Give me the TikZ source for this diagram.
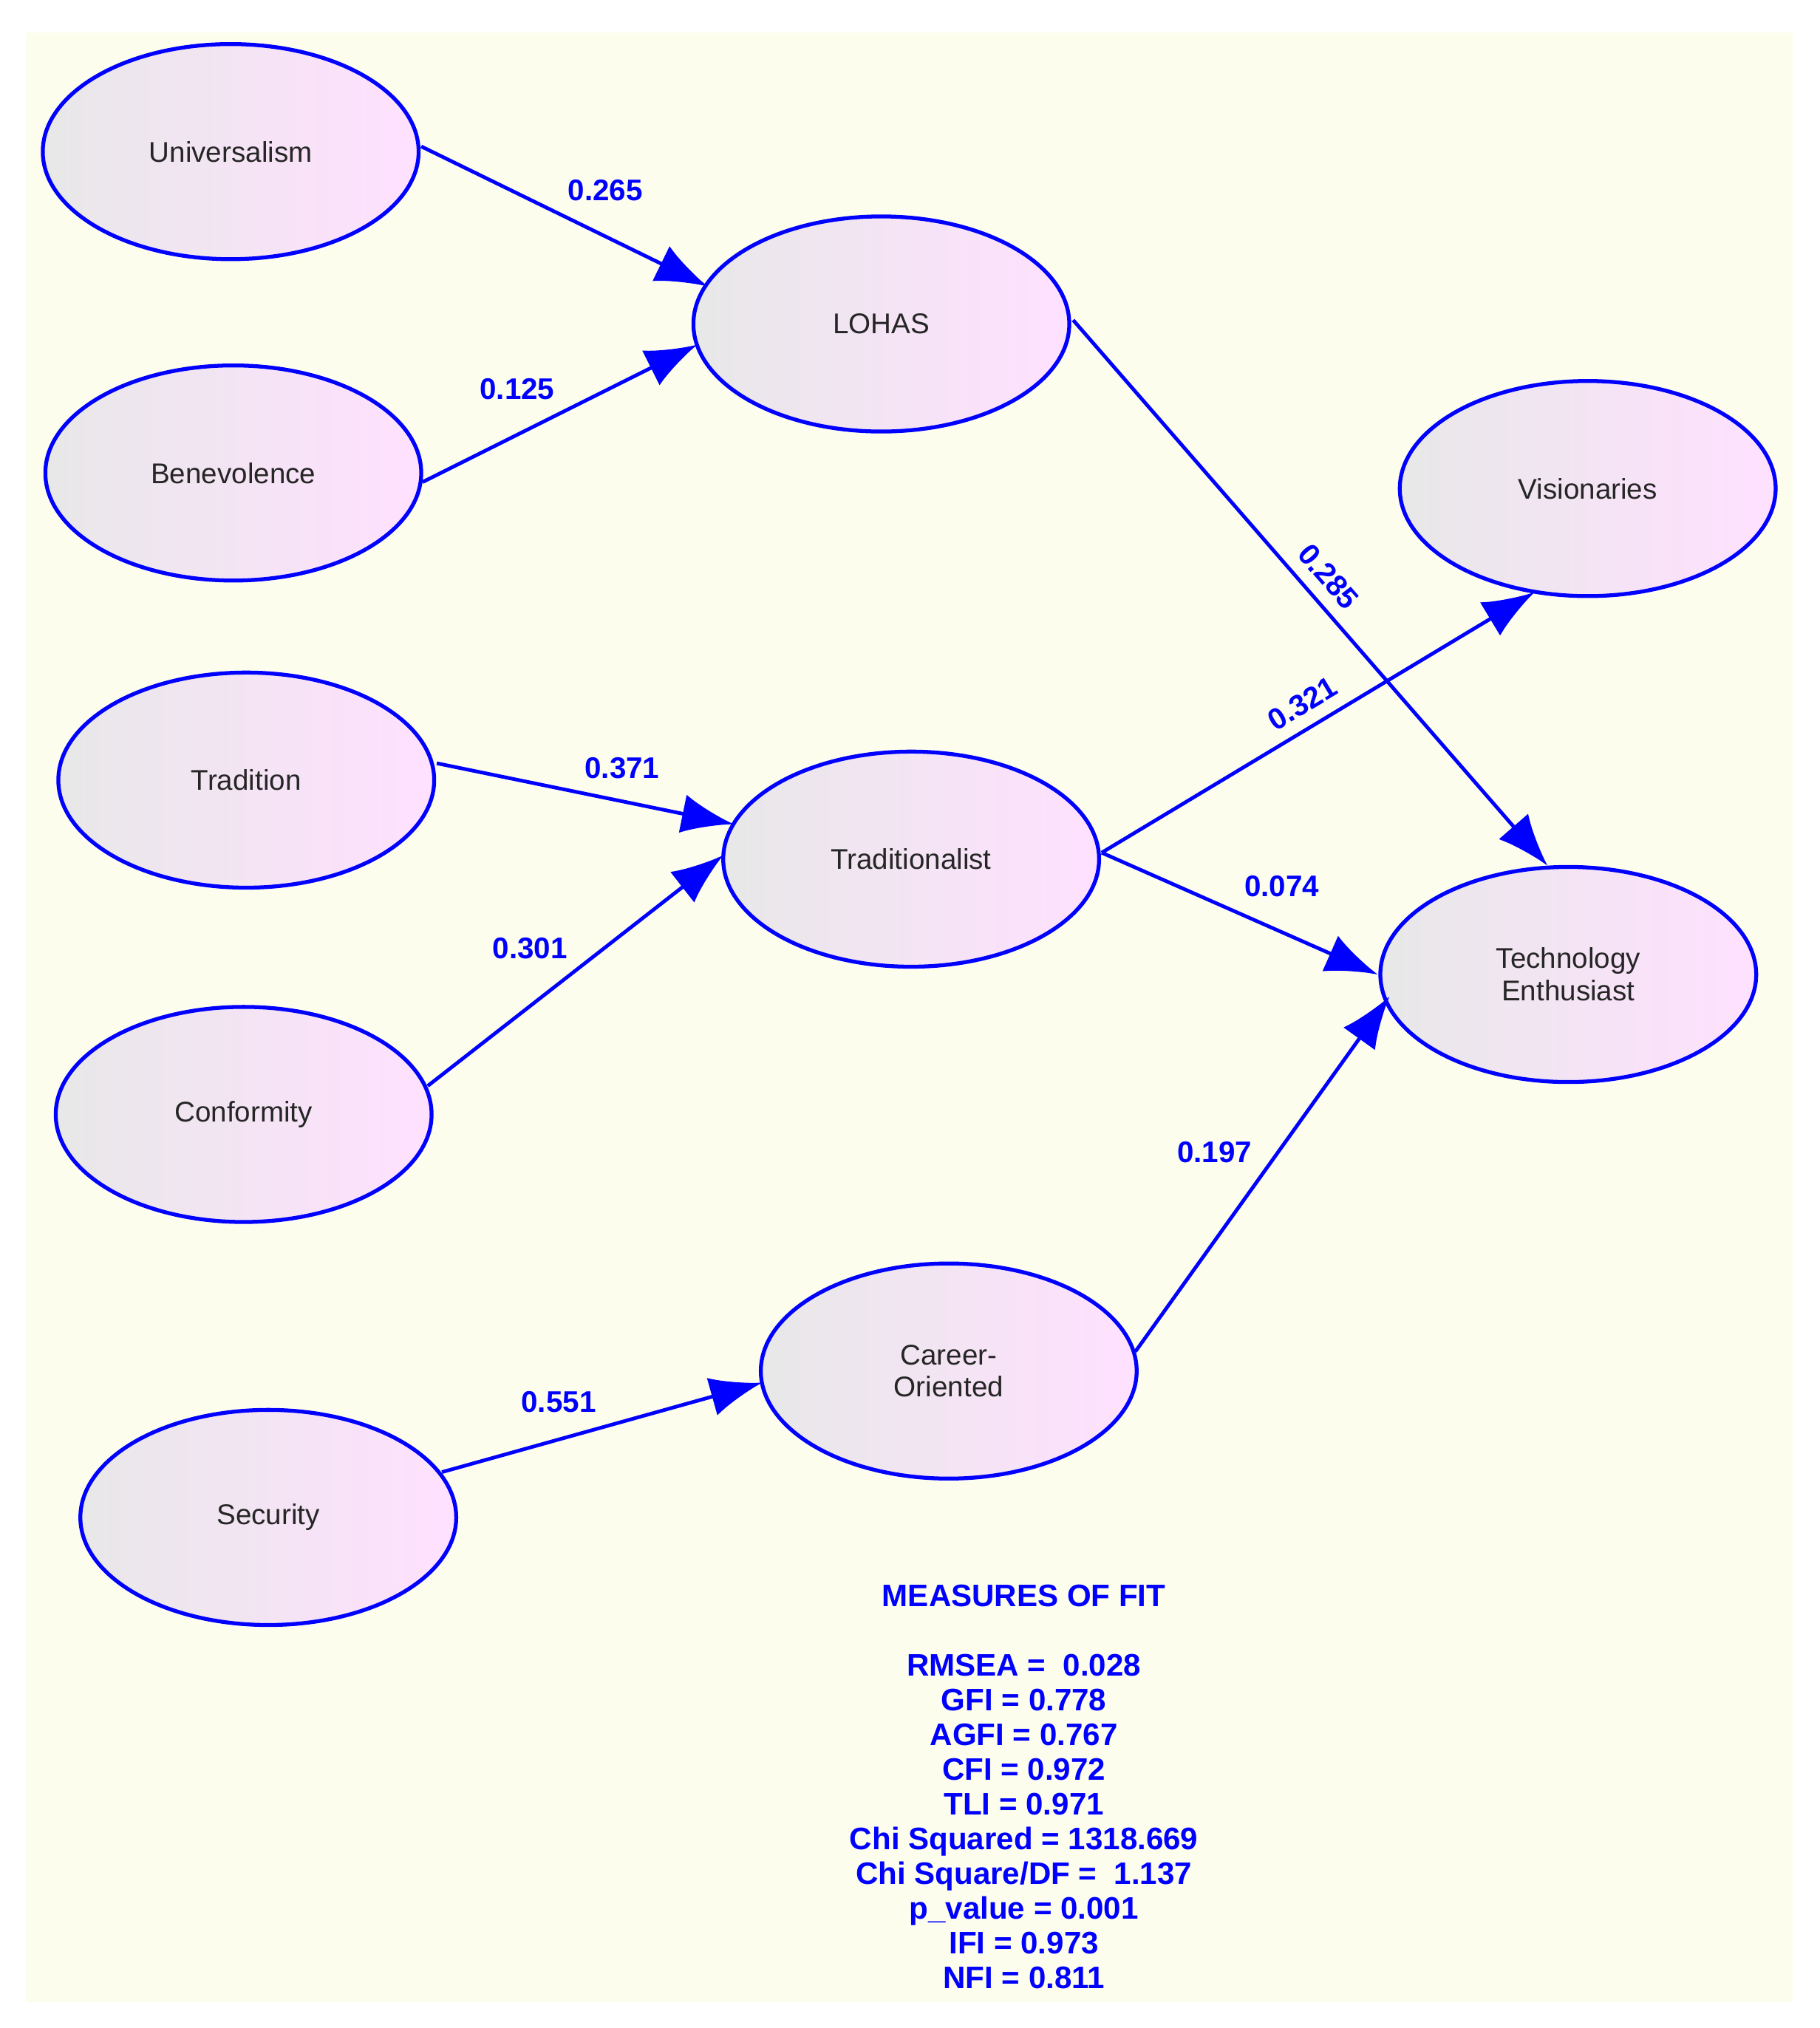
\documentclass[tikz,border=0pt]{standalone}
\usepackage{fontspec}
\setmainfont{Liberation Sans}
\usetikzlibrary{shapes.geometric,arrows.meta}
\definecolor{bg}{HTML}{FDFDEE}
\definecolor{lb}{HTML}{0000FF}
\begin{document}
\begin{tikzpicture}[x=0.5pt,y=-0.5pt,
  lat/.style={ellipse,draw=lb,line width=1.5pt,minimum width=145pt,minimum height=83pt,inner sep=0pt,
    left color=gray!18,right color=magenta!12,font=\fontsize{11}{12.5}\selectfont,align=center,text=black!85},
  e/.style={draw=lb,line width=1.4pt,-{Latex[length=20pt,width=15pt]}},
  v/.style={text=lb,font=\bfseries\fontsize{11.5}{13}\selectfont}]
\useasboundingbox (0,0) rectangle (1404,1565);
\fill[bg] (20,25) rectangle (1383,1545);
\node[lat] (uni) at (178,117) {Universalism};
\node[lat] (ben) at (180,365) {Benevolence};
\node[lat] (tra) at (190,602) {Tradition};
\node[lat] (con) at (188,860) {Conformity};
\node[lat] (sec) at (207,1171) {Security};
\node[lat] (loh) at (680,250) {LOHAS};
\node[lat] (tdl) at (703,663) {Traditionalist};
\node[lat] (car) at (732,1058) {Career-\\Oriented};
\node[lat] (vis) at (1225,377) {Visionaries};
\node[lat] (tec) at (1210,752) {Technology\\Enthusiast};
\coordinate (uniO) at (325,113);
\coordinate (lohI1) at (546,221);
\coordinate (benO) at (326,372);
\coordinate (lohI2) at (538,266);
\coordinate (lohO) at (828,247);
\coordinate (tecI1) at (1194,668);
\coordinate (traO) at (337,589);
\coordinate (tdlI1) at (566,636);
\coordinate (conO) at (330,838);
\coordinate (tdlI2) at (558,660);
\coordinate (tdlO) at (850,658);
\coordinate (visI) at (1184,457);
\coordinate (tecI2) at (1063,752);
\coordinate (secO) at (341,1136);
\coordinate (carI) at (588,1067);
\coordinate (carO) at (876,1043);
\coordinate (tecI3) at (1072,769);
\draw[e] (uniO) -- (lohI1);
\draw[e] (benO) -- (lohI2);
\draw[e] (lohO) -- (tecI1);
\draw[e] (traO) -- (tdlI1);
\draw[e] (conO) -- (tdlI2);
\draw[e] (tdlO) -- (visI);
\draw[e] (tdlO) -- (tecI2);
\draw[e] (secO) -- (carI);
\draw[e] (carO) -- (tecI3);
\node[v] (l1) at (467,147) {0.265};
\node[v] (l2) at (399,300) {0.125};
\node[v,rotate=-49] (l3) at (1025,445) {0.285};
\node[v,rotate=31] (l4) at (1005,543) {0.321};
\node[v] (l5) at (480,593) {0.371};
\node[v] (l6) at (409,732) {0.301};
\node[v] (l7) at (989,684) {0.074};
\node[v] (l8) at (937,889) {0.197};
\node[v] (l9) at (431,1082) {0.551};
\node[v,align=center,anchor=north,font=\bfseries\fontsize{12}{13.4}\selectfont] (fit) at (790,1216)
 {MEASURES OF FIT\\[13.4pt]RMSEA =\ \ 0.028\\GFI = 0.778\\AGFI = 0.767\\CFI = 0.972\\TLI = 0.971\\Chi Squared = 1318.669\\Chi Square/DF =\ \ 1.137\\p\_value = 0.001\\IFI = 0.973\\NFI = 0.811};
\end{tikzpicture}
\end{document}
